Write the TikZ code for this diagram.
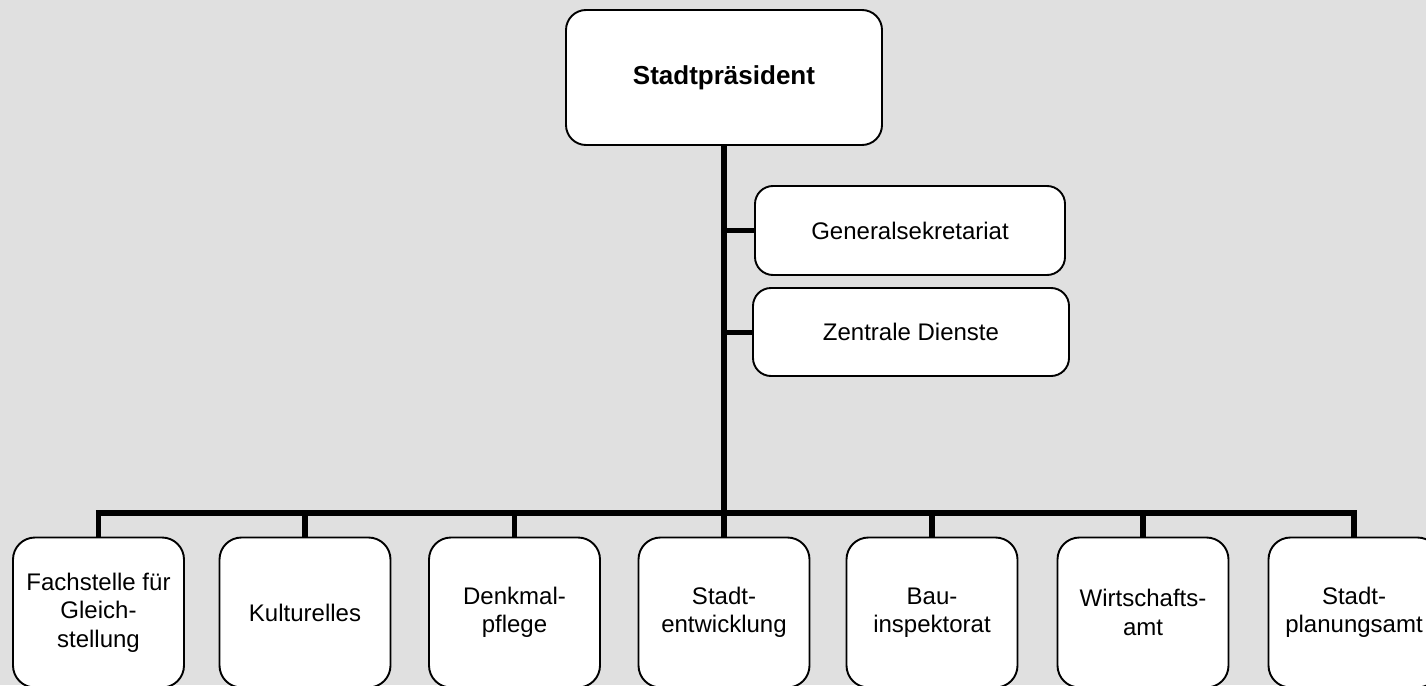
\documentclass[tikz,border=0pt]{standalone}
\usepackage{fontspec}
\setmainfont{Liberation Sans}
\definecolor{bggray}{RGB}{224,224,224}
\begin{document}
\begin{tikzpicture}[x=1pt,y=-1pt,
  box/.style={draw=black, line width=1.9pt, fill=white, rounded corners=18pt,
    inner sep=0pt, align=center, font=\fontsize{24}{28.5}\selectfont},
  unit/.style={box, minimum width=171pt, minimum height=150pt, rounded corners=22pt},
  trunk/.style={line width=6.5pt},
  bus/.style={line width=6pt},
  drop/.style={line width=5.5pt},
  branch/.style={line width=5pt}]
\fill[bggray] (0,0) rectangle (1426,685);
\useasboundingbox (0,0) rectangle (1426,685);
\begin{scope}
\clip (0,0) rectangle (1426,685);
% top
\node[box, minimum width=316pt, minimum height=135pt, rounded corners=20pt,
  font=\fontsize{26}{30}\selectfont\bfseries] (top) at (724,77.5) {Stadtpräsident};
% staff
\node[box, minimum width=310pt, minimum height=89pt] (gen) at (910,230.5) {Generalsekretariat};
\node[box, minimum width=316pt, minimum height=88pt] (zd) at (911,332) {Zentrale Dienste};
% units
\node[unit] (u1) at (98.5,612.5) {Fachstelle für\\Gleich-\\stellung};
\node[unit] (u2) at (305,612.5) {Kulturelles};
\node[unit] (u3) at (514.5,612.5) {Denkmal-\\pflege};
\node[unit] (u4) at (724,612.5) {Stadt-\\entwicklung};
\node[unit] (u5) at (932,612.5) {Bau-\\inspektorat};
\node[unit] (u6) at (1143,612.5) {Wirtschafts-\\amt};
\node[unit] (u7) at (1354,612.5) {Stadt-\\planungsamt};
\coordinate (busL) at (98.5,513);
\coordinate (busR) at (1354,513);
% connectors
\draw[trunk] (top.south) -- (u4.north);
\draw[branch] (top.south |- gen.west) -- (gen.west);
\draw[branch] (top.south |- zd.west) -- (zd.west);
\draw[bus] ([xshift=-2.75pt]busL) -- ([xshift=2.75pt]busR);
\foreach \u in {u1,u2,u3,u5,u6,u7}
  \draw[drop] (\u.north |- busL) -- (\u.north);
\end{scope}
\end{tikzpicture}
\end{document}
